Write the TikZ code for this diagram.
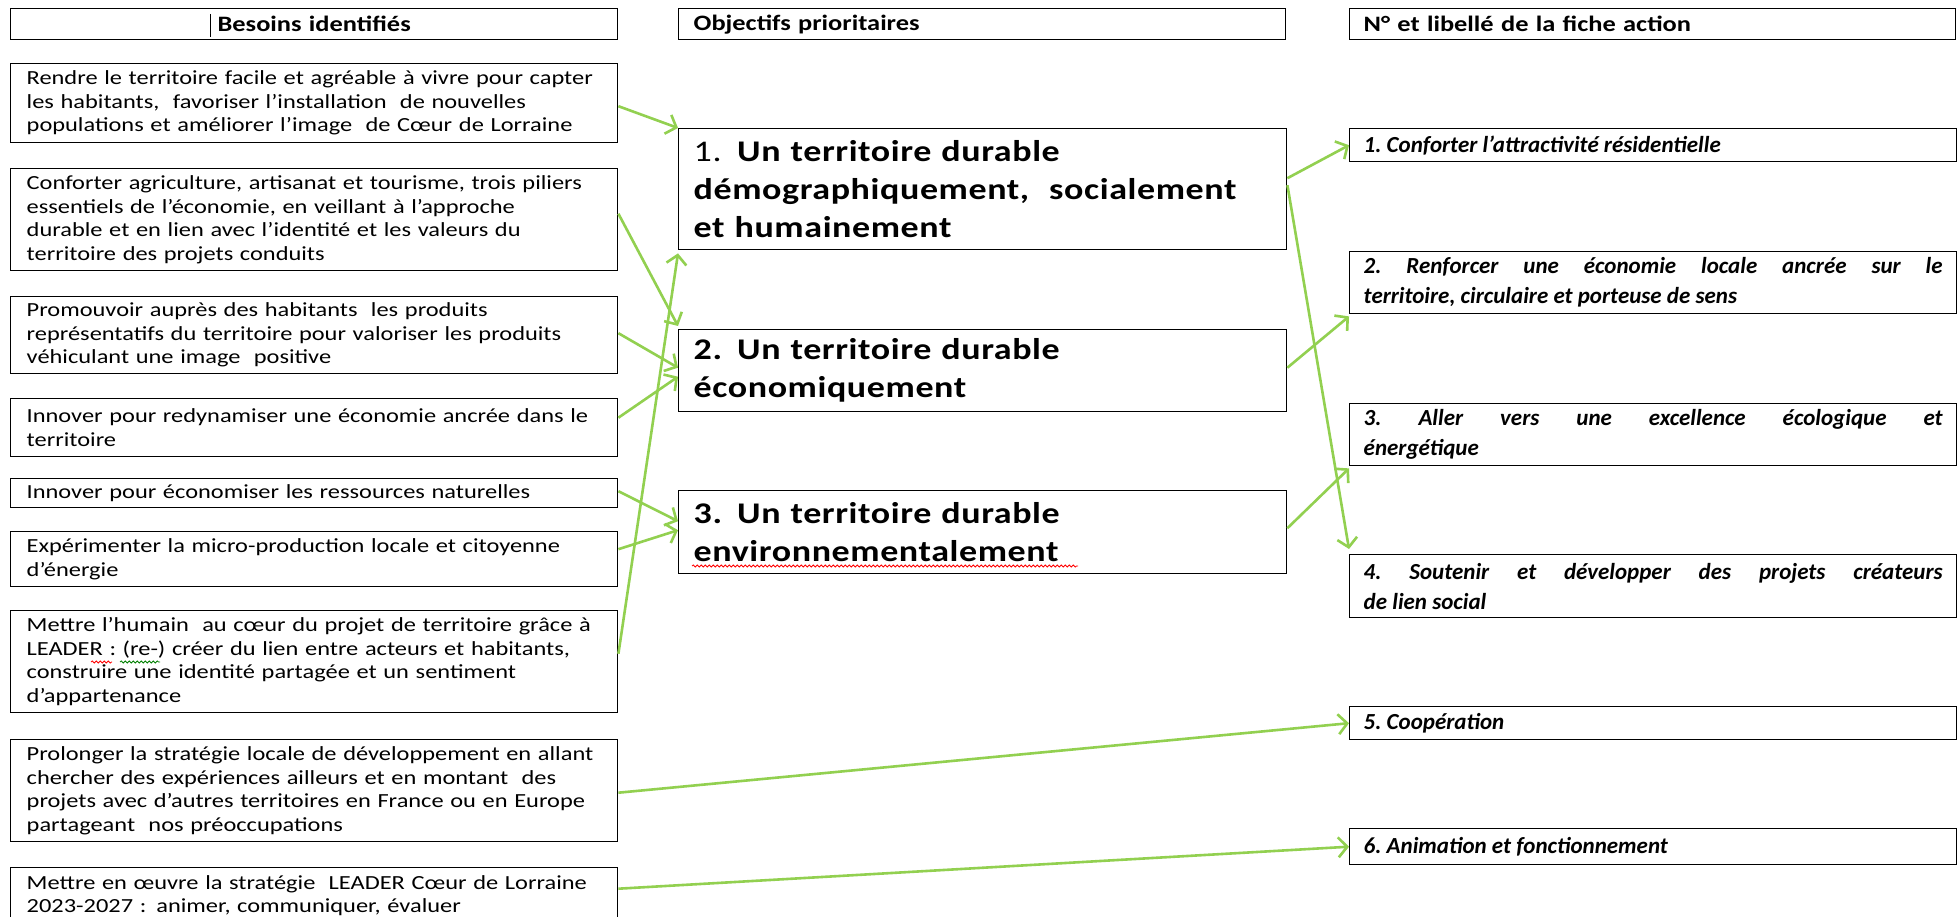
\documentclass[tikz,border=0pt]{standalone}
\usepackage{fontspec}
\setmainfont{Carlito}
\newfontfamily\headfont{Carlito}[FakeStretch=1.2]
\newfontfamily\leftfont{Carlito}[FakeStretch=1.22]
\newfontfamily\midfont{Carlito}[FakeStretch=1.2,LetterSpace=2]
\newfontfamily\rightfont{Carlito}
\usetikzlibrary{arrows.meta,decorations.pathmorphing,calc}
\definecolor{arrowgreen}{HTML}{92D050}
\begin{document}
\begin{tikzpicture}[x=1pt,y=-1pt,
  box/.style={draw=black, line width=1.4pt, anchor=north west, rectangle, inner ysep=0pt},
  headbox/.style={box, minimum height=31pt, text width=577pt, inner xsep=15pt, font=\headfont\fontsize{22}{26}\selectfont\bfseries},
  leftbox/.style={box, text width=575pt, inner xsep=16pt, align=left, font=\leftfont\fontsize{20}{23.5}\selectfont},
  midbox/.style={box, text width=578pt, inner xsep=15pt, align=left, font=\midfont\fontsize{30}{38}\selectfont},
  rightbox/.style={box, text width=579pt, inner xsep=14pt, align=justify, font=\rightfont\frenchspacing\fontsize{23}{30}\selectfont\bfseries\itshape},
  link/.style={draw=arrowgreen, line width=2.6pt, -{Straight Barb[length=9pt,width=20pt]}},
  squiggle/.style={line width=0.8pt, decorate, decoration={snake, amplitude=1pt, segment length=4pt}}
]
\useasboundingbox (0,0) rectangle (1957,917);
\fill[white] (0,0) rectangle (1957,917);
\clip (0,0) rectangle (1957,917);

% headers
\node[headbox, align=center] (h1) at (10,8) {Besoins identifiés};
\node[headbox, align=left] (h2) at (678,8) {Objectifs prioritaires};
\node[headbox, align=left, text width=578pt, inner xsep=14pt] (h3) at (1349,8) {N° et libellé de la fiche action};
\draw[line width=0.8pt] (210,14) -- (210,37);

% left column
\node[leftbox, minimum height=79pt] (l1) at (10,63) {Rendre le territoire facile et agréable à vivre pour capter\\les habitants,~ favoriser l’installation~ de nouvelles\\populations et améliorer l’image~ de Cœur de Lorraine};
\node[leftbox, minimum height=102pt] (l2) at (10,168) {Conforter agriculture, artisanat et tourisme, trois piliers\\essentiels de l’économie, en veillant à l’approche\\durable et en lien avec l’identité et les valeurs du\\territoire des projets conduits};
\node[leftbox, minimum height=77pt] (l3) at (10,296) {Promouvoir auprès des habitants~ les produits\\représentatifs du territoire pour valoriser les produits\\véhiculant une image~ positive};
\node[leftbox, minimum height=58pt] (l4) at (10,398) {Innover pour redynamiser une économie ancrée dans le\\territoire};
\node[leftbox, minimum height=29pt] (l5) at (10,478) {Innover pour économiser les ressources naturelles};
\node[leftbox, minimum height=55pt] (l6) at (10,531) {Expérimenter la micro-production locale et citoyenne\\d’énergie};
\node[leftbox, minimum height=102pt] (l7) at (10,610) {Mettre l’humain~ au cœur du projet de territoire grâce à\\LEADER : (re-) créer du lien entre acteurs et habitants,\\construire une identité partagée et un sentiment\\d’appartenance};
\node[leftbox, minimum height=102pt] (l8) at (10,739) {Prolonger la stratégie locale de développement en allant\\chercher des expériences ailleurs et en montant~ des\\projets avec d’autres territoires en France ou en Europe\\partageant~ nos préoccupations};
\node[leftbox, minimum height=56pt] (l9) at (10,867) {Mettre en œuvre la stratégie~ LEADER Cœur de Lorraine\\2023-2027 : animer, communiquer, évaluer};

% middle column
\node[midbox, minimum height=121pt] (m1) at (678,128) {1. \textbf{Un territoire durable}\\\textbf{démographiquement,~ socialement}\\\textbf{et humainement}};
\node[midbox, minimum height=82pt] (m2) at (678,329) {\textbf{2. Un territoire durable}\\\textbf{économiquement}};
\node[midbox, minimum height=83pt] (m3) at (678,490) {\textbf{3. Un territoire durable}\\\textbf{environnementalement}};

% right column
\node[rightbox, minimum height=33pt] (r1) at (1349,128) {1. Conforter l’attractivité résidentielle};
\node[rightbox, minimum height=62pt] (r2) at (1349,251) {2. Renforcer une économie locale ancrée sur le\linebreak territoire, circulaire et porteuse de sens};
\node[rightbox, minimum height=62pt] (r3) at (1349,403) {3. Aller vers une excellence écologique et\linebreak énergétique};
\node[rightbox, minimum height=63pt] (r4) at (1349,554) {4. Soutenir et développer des projets créateurs\linebreak de lien social};
\node[rightbox, minimum height=33pt] (r5) at (1349,706) {5. Coopération};
\node[rightbox, minimum height=36pt] (r6) at (1349,828) {6. Animation et fonctionnement};

% spell-check marks
\draw[red, squiggle] (692,566) -- (1078,566);
\draw[red, squiggle] (91,662) -- (112,662);
\draw[green!50!black, squiggle] (120,662) -- (160,662);

% connectors
\draw[link] ([yshift=-3pt]l1.east) -- (m1.north west);
\draw[link] ([yshift=6pt]l2.east) -- ([yshift=3pt]m2.north west);
\draw[link] ([yshift=8pt]l7.east) -- ([yshift=-3pt]m1.south west);
\draw[link] ([yshift=2pt]l3.east) -- ([yshift=3pt]m2.west);
\draw[link] ([yshift=10pt]l4.east) -- ([yshift=-6pt]m2.west);
\draw[link] ([yshift=2pt]l5.east) -- ([yshift=11pt]m3.west);
\draw[link] ([yshift=10pt]l6.east) -- ([yshift=2pt]m3.west);
\draw[link] ([yshift=11pt]m1.east) -- (r1.west);
\draw[link] ([yshift=4pt]m1.east) -- ([yshift=5pt]r4.north west);
\draw[link] ([yshift=3pt]m2.east) -- ([yshift=-2pt]r2.south west);
\draw[link] ([yshift=4pt]m3.east) -- ([yshift=-2pt]r3.south west);
\draw[link] ([yshift=-2pt]l8.east) -- (r5.west);
\draw[link] ([yshift=7pt]l9.east) -- (r6.west);
\end{tikzpicture}
\end{document}
